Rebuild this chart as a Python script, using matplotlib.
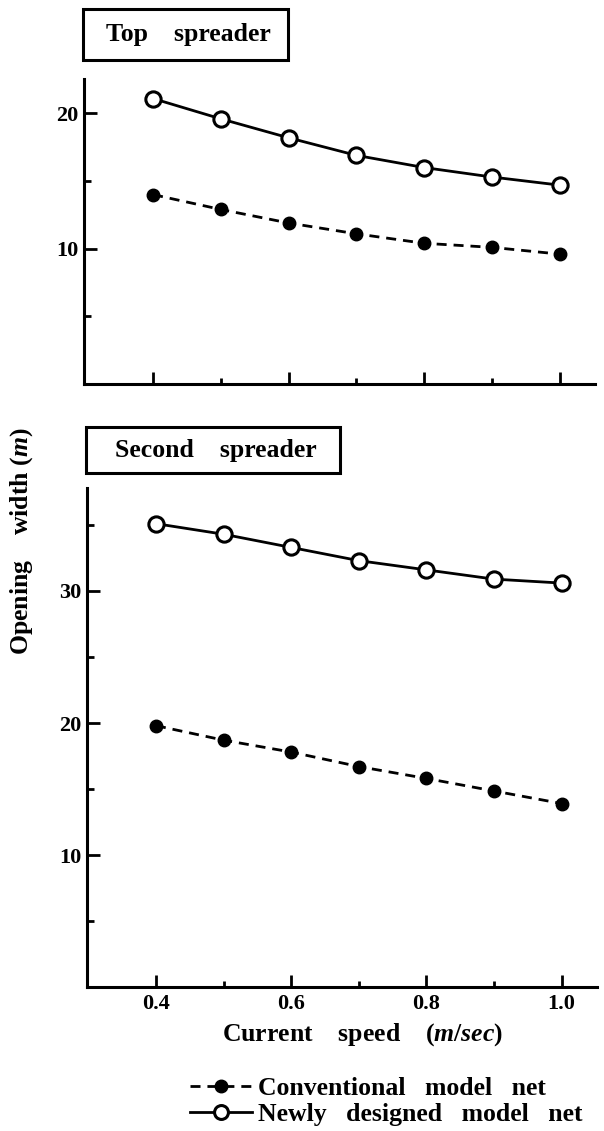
import matplotlib

matplotlib.use("Agg")
import matplotlib.pyplot as plt
from matplotlib.lines import Line2D
from matplotlib.patches import Rectangle
from matplotlib.ticker import FixedLocator

plt.rcParams["font.family"] = ["Liberation Serif", "DejaVu Serif"]
plt.rcParams["font.weight"] = "bold"
plt.rcParams["mathtext.fontset"] = "custom"
plt.rcParams["mathtext.it"] = "Liberation Serif:italic:bold"
plt.rcParams["mathtext.rm"] = "Liberation Serif:bold"

# current speed (m/sec)
speed = [0.4, 0.5, 0.6, 0.7, 0.8, 0.9, 1.0]

# opening width (m), top spreader
top_conventional = [14.0, 12.9, 11.9, 11.1, 10.4, 10.1, 9.6]
top_newly = [21.1, 19.6, 18.2, 16.9, 16.0, 15.3, 14.7]

# opening width (m), second spreader
second_conventional = [19.8, 18.7, 17.8, 16.7, 15.8, 14.85, 13.9]
second_newly = [35.1, 34.3, 33.3, 32.3, 31.6, 30.9, 30.6]

x_major = [0.4, 0.6, 0.8, 1.0]
x_minor = [0.5, 0.7, 0.9]
x_labels = ["0.4", "0.6", "0.8", "1.0"]

top_y_major, top_y_minor = [10, 20], [5, 15]
second_y_major, second_y_minor = [10, 20, 30], [5, 15, 25, 35]

LW = 2.0
DASH = (3.6, 2.5)

fig = plt.figure(figsize=(6.04, 11.31), dpi=100)
ax_top = fig.add_axes([0.139, 0.6605, 0.846, 0.2697])
ax_bot = fig.add_axes([0.144, 0.1273, 0.844, 0.4412])


def style_axes(ax, ymax, y_major, y_minor, show_xlabels):
    for side in ("top", "right"):
        ax.spines[side].set_visible(False)
    for side in ("left", "bottom"):
        ax.spines[side].set_linewidth(2.2)
    ax.set_xlim(0.298, 1.052)
    ax.set_ylim(0, ymax)
    ax.xaxis.set_major_locator(FixedLocator(x_major))
    ax.xaxis.set_minor_locator(FixedLocator(x_minor))
    ax.yaxis.set_major_locator(FixedLocator(y_major))
    ax.yaxis.set_minor_locator(FixedLocator(y_minor))
    ax.tick_params(which="both", direction="in", width=2.0)
    ax.tick_params(axis="x", which="major", length=9, pad=5, labelsize=16)
    ax.tick_params(axis="x", which="minor", length=4)
    ax.tick_params(axis="y", which="major", length=9, pad=4, labelsize=16)
    ax.tick_params(axis="y", which="minor", length=5)
    if show_xlabels:
        ax.set_xticklabels(x_labels)
    else:
        ax.set_xticklabels([])


def draw_series(ax, conv, newly):
    conv_line, = ax.plot(speed, conv, color="black", lw=LW, ls=(0, DASH),
                         marker="o", ms=9, mfc="black", mec="black")
    newly_line, = ax.plot(speed, newly, color="black", lw=LW, ls="-",
                          marker="o", ms=11, mfc="white", mec="black", mew=2.2)
    return conv_line, newly_line


style_axes(ax_top, 22.55, top_y_major, top_y_minor, False)
style_axes(ax_bot, 37.8, second_y_major, second_y_minor, True)
draw_series(ax_top, top_conventional, top_newly)
draw_series(ax_bot, second_conventional, second_newly)

# boxed panel titles
W, H = 604, 1131
for (x0, y0, x1, y1), label in [((83, 9, 288, 60), "Top    spreader"),
                                ((86, 427, 340, 473), "Second    spreader")]:
    fig.patches.append(Rectangle((x0 / W, 1 - y1 / H), (x1 - x0) / W, (y1 - y0) / H,
                                 transform=fig.transFigure, fill=False,
                                 edgecolor="black", lw=2.2))
    fig.text((x0 + x1) / 2 / W + 0.004, 1 - (y0 + y1) / 2 / H, label, ha="center",
             va="center", fontsize=18.5)

fig.text(22 / W, 1 - 541 / H, r"Opening    width $(\it{m})$", rotation=90,
         ha="center", va="center", fontsize=18.5)
fig.text(363 / W, 1 - 1035 / H, r"Current    speed    $(\it{m/sec})$",
         ha="center", va="center", fontsize=18.5)

handles = [
    Line2D([], [], color="black", lw=LW, ls=(0, DASH), marker="o", ms=9,
           mfc="black", mec="black"),
    Line2D([], [], color="black", lw=LW, ls="-", marker="o", ms=10,
           mfc="white", mec="black", mew=2.2),
]
fig.legend(handles, ["Conventional   model   net", "Newly   designed   model   net"],
           loc="upper left", bbox_to_anchor=(190 / W, 1 - 1077 / H), frameon=False,
           fontsize=18.5, handlelength=2.4, handletextpad=0.25, labelspacing=0.12,
           borderpad=0, borderaxespad=0)

fig.savefig("out.png", dpi=100)
